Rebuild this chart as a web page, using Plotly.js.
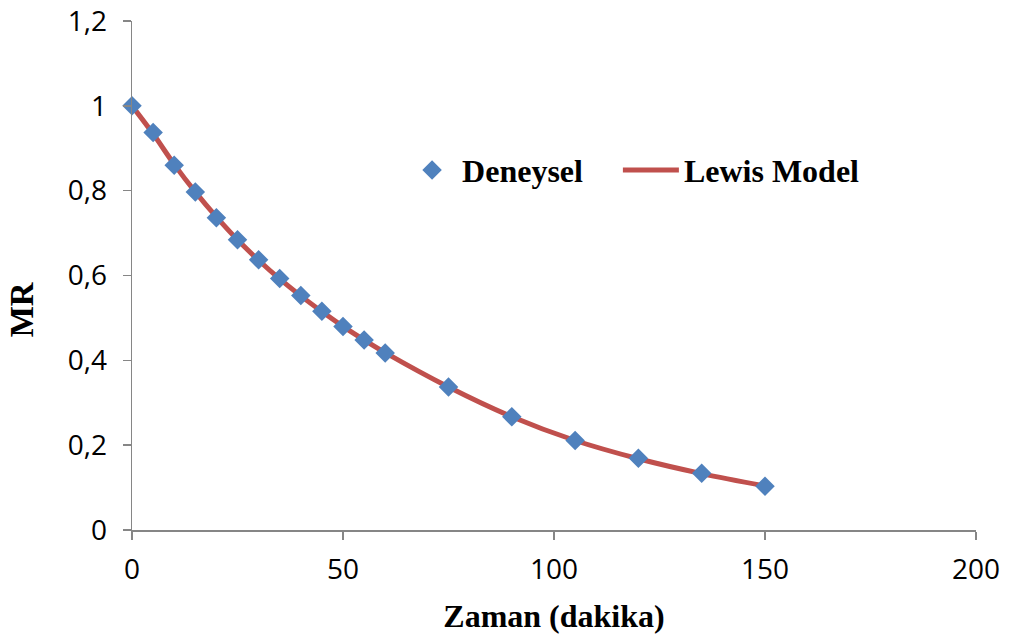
<!DOCTYPE html>
<html>
<head>
<meta charset="utf-8">
<script src="https://cdn.plot.ly/plotly-3.0.1.min.js"></script>
<style>
  html, body { margin: 0; padding: 0; background: #fff; }
  #chart { width: 1012px; height: 644px; }
</style>
</head>
<body>
<div id="chart"></div>
<script>
// Data
const times = [0, 5, 10, 15, 20, 25, 30, 35, 40, 45, 50, 55, 60, 75, 90, 105, 120, 135, 150];
const deneysel = [1.0, 0.937, 0.860, 0.797, 0.736, 0.684, 0.637, 0.593, 0.553, 0.516, 0.480, 0.448, 0.417, 0.337, 0.267, 0.211, 0.169, 0.134, 0.103];
const lewisModel = [1.0, 0.934, 0.862, 0.797, 0.738, 0.684, 0.636, 0.592, 0.552, 0.515, 0.480, 0.448, 0.418, 0.337, 0.267, 0.211, 0.168, 0.133, 0.104];
const xTicks = [0, 50, 100, 150, 200];
const yTicks = [0, 0.2, 0.4, 0.6, 0.8, 1, 1.2];

const axisGray = '#868686';
const tickFont = { family: 'Open Sans, sans-serif', size: 28, color: '#000' };
const serifBold = 'Liberation Serif, Times New Roman, serif';

const traces = [
  {
    x: times, y: lewisModel, name: 'Lewis Model', type: 'scatter', mode: 'lines',
    line: { color: '#C0504D', width: 5, shape: 'spline' },
    cliponaxis: false, legend: 'legend2'
  },
  {
    x: times, y: deneysel, name: 'Deneysel', type: 'scatter', mode: 'markers',
    marker: { symbol: 'diamond', size: 15, color: '#4F81BD', line: { width: 0 } },
    cliponaxis: false, legend: 'legend'
  }
];

const legendFont = { family: serifBold, size: 32, color: '#000', weight: 'bold' };

const layout = {
  width: 1012, height: 644,
  margin: { l: 132, r: 36, t: 21, b: 114 },
  paper_bgcolor: '#fff', plot_bgcolor: '#fff',
  separators: ',.',
  showlegend: true,
  legend: {
    x: 0.32, y: 0.707, xanchor: 'left', yanchor: 'middle',
    itemwidth: 50, font: legendFont, bgcolor: 'rgba(0,0,0,0)'
  },
  legend2: {
    x: 0.5757, y: 0.707, xanchor: 'left', yanchor: 'middle',
    itemwidth: 56, font: legendFont, bgcolor: 'rgba(0,0,0,0)'
  },
  xaxis: {
    range: [0, 200], tickvals: xTicks, ticks: 'outside', ticklen: 8, tickcolor: axisGray, tickwidth: 1.5,
    showline: true, linecolor: axisGray, linewidth: 1.5, showgrid: false, zeroline: false,
    tickfont: tickFont, ticklabelstandoff: 6, ticklabeloverflow: 'allow',
    title: { text: '<b>Zaman (dakika)</b>', font: { family: serifBold, size: 32, color: '#000' }, standoff: 18 }
  },
  yaxis: {
    range: [0, 1.2], tickvals: yTicks, ticks: 'outside', ticklen: 8, tickcolor: axisGray, tickwidth: 1.5,
    showline: true, linecolor: axisGray, linewidth: 1.5, showgrid: false, zeroline: false,
    tickfont: tickFont, ticklabelstandoff: 10, ticklabeloverflow: 'allow'
  },
  annotations: [
    {
      text: '<b>MR</b>', xref: 'paper', yref: 'paper', x: -0.13, y: 0.434,
      xanchor: 'center', yanchor: 'middle', showarrow: false, textangle: -90,
      font: { family: serifBold, size: 33, color: '#000' }
    }
  ]
};

Plotly.newPlot('chart', traces, layout, { displayModeBar: false, staticPlot: true });
</script>
</body>
</html>
